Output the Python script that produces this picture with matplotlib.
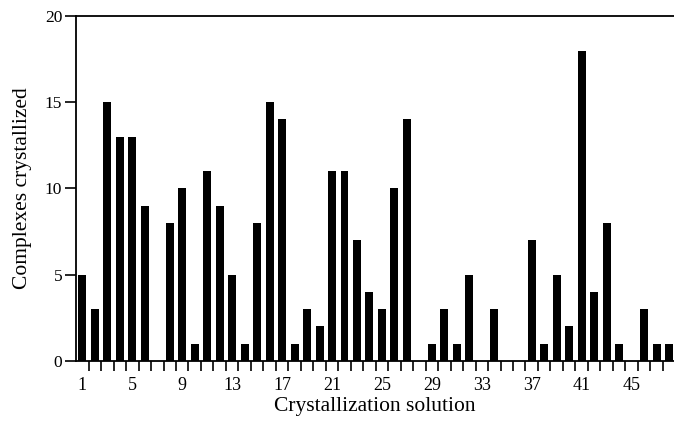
import numpy as np
import matplotlib
matplotlib.use("Agg")
import matplotlib.pyplot as plt

plt.rcParams['font.family'] = ['Liberation Serif', 'DejaVu Serif']

solutions = list(range(1, 49))
complexes = [5, 3, 15, 13, 13, 9, 0, 8, 10, 1,
             11, 9, 5, 1, 8, 15, 14, 1, 3, 2,
             11, 11, 7, 4, 3, 10, 14, 0, 1, 3,
             1, 5, 0, 3, 0, 0, 7, 1, 5, 2,
             18, 4, 8, 1, 0, 3, 1, 1]
xlabels = [1, 5, 9, 13, 17, 21, 25, 29, 33, 37, 41, 45]
yticks = [0, 5, 10, 15, 20]

fig = plt.figure(figsize=(6.74, 4.23), dpi=100)
ax = fig.add_axes([0.113, 0.147, 0.887, 0.815])

ax.bar(solutions, complexes, width=0.64, color='black')

ax.set_xlim(0.5, 48.4)
ax.set_ylim(0, 20)

# ticks sit between bars, labels sit under bars
ax.set_xticks(np.arange(1.5, 48, 1))
ax.set_xticklabels([])
ax.set_xticks(xlabels, minor=True)
ax.set_xticklabels([str(v) for v in xlabels], minor=True)
ax.tick_params(axis='x', which='major', direction='out', length=7, width=1.2)
ax.tick_params(axis='x', which='minor', length=0, labelsize=13, pad=12)

ax.set_yticks(yticks)
ax.tick_params(axis='y', direction='out', length=8, width=1.2, labelsize=12.5, pad=2)

for side in ['left', 'top', 'bottom']:
    ax.spines[side].set_linewidth(1.3)
ax.spines['right'].set_visible(False)

ax.set_xlabel('Crystallization solution', fontsize=15.5, labelpad=2)
ax.set_ylabel('Complexes crystallized', fontsize=15.5, labelpad=9)

fig.savefig('out.png', dpi=100)
